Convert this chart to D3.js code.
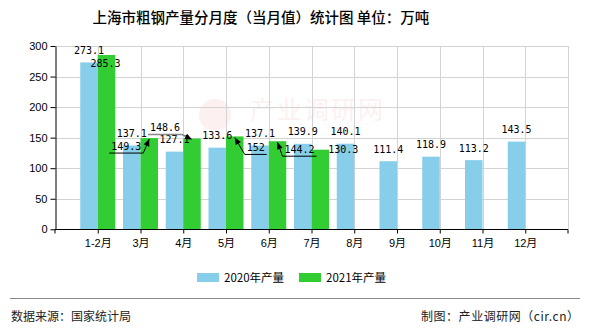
<!DOCTYPE html>
<html>
<head>
<meta charset="utf-8">
<script src="https://cdn.jsdelivr.net/npm/d3@7/dist/d3.min.js"></script>
<style>
  html, body { margin: 0; padding: 0; background: #fff; }
  svg { display: block; }
</style>
</head>
<body>
<svg id="chart" width="590" height="330"></svg>
<script>
// Monthly crude steel output of Shanghai (10k tonnes)
const months = ["1-2月", "3月", "4月", "5月", "6月", "7月", "8月", "9月", "10月", "11月", "12月"];
const output2020 = [273.1, 137.1, 127.1, 133.6, 137.1, 139.9, 140.1, 111.4, 118.9, 113.2, 143.5];
const output2021 = [285.3, 149.3, 148.6, 152, 144.2, 130.3];
const seriesNames = ["2020年产量", "2021年产量"];
const yTicks = [0, 50, 100, 150, 200, 250, 300];

const colors = ["#87CEEB", "#32CD32"];
const labelFont = "'DejaVu Sans Mono', 'Liberation Mono', monospace";
const sansFont = "'Liberation Sans', Arial, 'Noto Sans CJK SC', sans-serif";
const cjkFont = "'Noto Sans CJK SC', sans-serif";

const svg = d3.select("#chart");
const plot = { left: 55, right: 568, top: 46, bottom: 229.3 };

const x = d3.scalePoint().domain(months).range([plot.left, plot.right]).padding(1);
const y = d3.scaleLinear().domain([0, 300]).range([plot.bottom, plot.top]);
const barW = 17.5;

// Title
svg.append("text")
  .attr("x", 261).attr("y", 23)
  .attr("text-anchor", "middle")
  .attr("font-family", cjkFont)
  .attr("font-size", 14.5)
  .attr("font-weight", 500)
  .attr("fill", "#000")
  .text("上海市粗钢产量分月度（当月值）统计图 单位：万吨");

// Faint site mark behind the plot
const mark = svg.append("g").attr("opacity", 0.08);
mark.append("circle").attr("cx", 215).attr("cy", 115).attr("r", 16).attr("fill", "#e05050");
mark.append("text")
  .attr("x", 250).attr("y", 119)
  .attr("font-family", cjkFont).attr("font-size", 25)
  .attr("textLength", 133)
  .attr("fill", "#e05050")
  .text("产业调研网");

// Grid
const grid = svg.append("g").attr("stroke", "#d3d3d3").attr("stroke-width", 1);
yTicks.filter(t => t > 0).forEach(t => {
  grid.append("line")
    .attr("x1", plot.left).attr("x2", plot.right)
    .attr("y1", Math.round(y(t)) + 0.5).attr("y2", Math.round(y(t)) + 0.5);
});
months.concat(["__end"]).forEach(m => {
  const gx = m === "__end" ? plot.right : x(m);
  grid.append("line")
    .attr("x1", Math.round(gx) + 0.5).attr("x2", Math.round(gx) + 0.5)
    .attr("y1", plot.top).attr("y2", plot.bottom);
});

// Bars
const bars = svg.append("g");
[output2020, output2021].forEach((vals, s) => {
  bars.selectAll(null)
    .data(vals)
    .join("rect")
    .attr("x", (d, i) => x(months[i]) + (s === 0 ? -barW : 0))
    .attr("y", d => y(d))
    .attr("width", barW)
    .attr("height", d => y(0) - y(d))
    .attr("fill", colors[s]);
});

// Axes
const xAxis = d3.axisBottom(x).tickSize(4).tickSizeOuter(0);
const gx = svg.append("g")
  .attr("transform", `translate(0,${Math.round(plot.bottom) + 0.5})`)
  .call(xAxis);
gx.select(".domain").attr("stroke", "#000").attr("d", `M${plot.left},4V0H${plot.right}V4`);
gx.selectAll(".tick line").attr("stroke", "#000");
gx.selectAll(".tick text")
  .attr("font-family", sansFont)
  .attr("font-size", 11)
  .attr("fill", "#000")
  .attr("dy", "0.95em");

const yAxis = d3.axisLeft(y).tickValues(yTicks).tickSize(5).tickSizeOuter(0);
const gy = svg.append("g")
  .attr("transform", `translate(${plot.left + 0.5},0)`)
  .call(yAxis);
gy.select(".domain").attr("stroke", "#000");
gy.selectAll(".tick line").attr("stroke", "#000");
gy.selectAll(".tick text")
  .attr("font-family", sansFont)
  .attr("font-size", 11)
  .attr("fill", "#000")
  .attr("x", -8);

// Value labels: default above each bar, with displaced labels for crowded 2021 bars
const labels = svg.append("g")
  .attr("font-family", labelFont)
  .attr("font-size", 10)
  .attr("fill", "#000")
  .attr("text-anchor", "middle");

output2020.forEach((v, i) => {
  labels.append("text")
    .attr("x", x(months[i]) - barW / 2)
    .attr("y", y(v) - 8.5)
    .text(v);
});

// Offsets (label centre relative to bar top centre) and leader style for 2021 labels
const shift2021 = [
  { dx: -1, dy: 8 },
  { dx: -23, dy: 8, leader: "left", stroke: "#000" },
  { dx: -27, dy: -11, leader: "right", stroke: "#888" },
  { dx: 21, dy: 11, leader: "left", stroke: "#000" },
  { dx: 22, dy: 8, leader: "left", stroke: "#000" },
  { dx: 23, dy: -0.5 }
];

const leaders = svg.append("g").attr("fill", "none");
output2021.forEach((v, i) => {
  const bx = x(months[i]) + barW / 2;
  const by = y(v);
  const sh = shift2021[i];
  const lx = bx + sh.dx, ly = by + sh.dy;
  const str = String(v);
  const w = str.length * 6.02;
  labels.append("text")
    .attr("x", lx)
    .attr("y", ly + 3.6)
    .text(str);
  if (sh.leader) {
    const lineY = ly + 7;
    const xl = lx - w / 2 - 2, xr = lx + w / 2 + 2;
    const near = bx < lx ? xl : xr;
    const far = bx < lx ? xr : xl;
    leaders.append("path")
      .attr("d", `M${far},${lineY}H${near}L${bx},${by + 1}`)
      .attr("stroke", sh.stroke)
      .attr("stroke-width", sh.stroke === "#888" ? 1.6 : 1);
    // arrow head at the bar top
    const ang = Math.atan2(by + 1 - lineY, bx - near);
    const len = 7, half = 3;
    const tx = bx, ty = by + 1;
    const p1 = [tx - len * Math.cos(ang) + half * Math.sin(ang), ty - len * Math.sin(ang) - half * Math.cos(ang)];
    const p2 = [tx - len * Math.cos(ang) - half * Math.sin(ang), ty - len * Math.sin(ang) + half * Math.cos(ang)];
    leaders.append("path")
      .attr("d", `M${tx},${ty}L${p1[0]},${p1[1]}L${p2[0]},${p2[1]}Z`)
      .attr("fill", "#000");
  }
});

// Legend
const legend = svg.append("g");
const legendX = [197, 299];
seriesNames.forEach((name, s) => {
  legend.append("rect")
    .attr("x", legendX[s]).attr("y", 273)
    .attr("width", 22).attr("height", 9)
    .attr("fill", colors[s]);
  legend.append("text")
    .attr("x", legendX[s] + 27).attr("y", 282)
    .attr("font-family", cjkFont)
    .attr("font-size", 11.5)
    .attr("fill", "#000")
    .text(name);
});

// Footer
svg.append("line")
  .attr("x1", 10).attr("x2", 580)
  .attr("y1", 298.5).attr("y2", 298.5)
  .attr("stroke", "#888").attr("stroke-width", 1);
svg.append("text")
  .attr("x", 11).attr("y", 321)
  .attr("font-family", cjkFont).attr("font-size", 12).attr("fill", "#222")
  .text("数据来源：国家统计局");
svg.append("text")
  .attr("x", 579).attr("y", 321)
  .attr("text-anchor", "end")
  .attr("font-family", cjkFont).attr("font-size", 12).attr("fill", "#222")
  .attr("textLength", 158)
  .text("制图：产业调研网（cir.cn）");
</script>
</body>
</html>
